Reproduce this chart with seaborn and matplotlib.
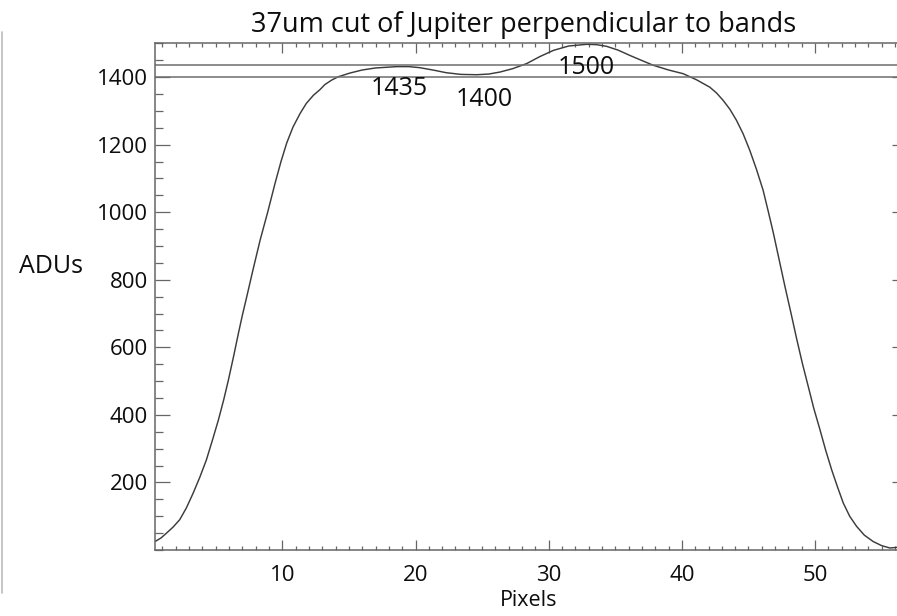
import numpy as np
import pandas as pd
import matplotlib
matplotlib.use("Agg")
import matplotlib.pyplot as plt
import seaborn as sns
from matplotlib.ticker import MultipleLocator, FixedLocator

# ── DATA ──────────────────────────────────────────────────────
pixels = [0.44, 0.9, 1.3, 1.8, 2.3, 2.8, 3.3, 3.8, 4.3, 4.75,
          5.2, 5.6, 5.95, 6.35, 6.7, 7.0, 7.33, 7.8, 8.33, 8.9,
          9.45, 9.9, 10.33, 10.8, 11.33, 11.8, 12.33, 12.83, 13.2, 13.7,
          14.2, 15.08, 16.0, 17.0, 18.6, 19.5, 20.3, 21.3, 22.3, 23.4,
          24.6, 25.5, 26.35, 27.3, 28.35, 29.3, 30.35, 31.5, 32.85, 33.6,
          34.35, 35.2, 36.1, 37.0, 37.85, 39.0, 40.1, 41.1, 42.1, 42.6,
          43.1, 43.6, 44.1, 44.6, 45.1, 45.6, 46.1, 46.5, 46.86, 47.3,
          47.74, 48.2, 48.62, 49.05, 49.49, 49.9, 50.37, 50.8, 51.25, 51.7,
          52.12, 52.6, 53.12, 53.7, 54.37, 55.0, 55.62, 56.2]
adus = [25, 36, 50, 68, 90, 125, 168, 215, 267, 325,
        385, 445, 503, 575, 641, 695, 750, 830, 917, 1000,
        1085, 1150, 1205, 1252, 1292, 1322, 1346, 1363, 1378, 1391,
        1401, 1412, 1421, 1427, 1431, 1431, 1428, 1421, 1413, 1408,
        1407, 1409, 1415, 1425, 1440, 1460, 1479, 1492, 1497, 1496,
        1491, 1480, 1464, 1449, 1435, 1421, 1410, 1392, 1370, 1353,
        1331, 1305, 1272, 1232, 1183, 1127, 1065, 1000, 940, 860,
        780, 700, 625, 552, 484, 420, 356, 295, 237, 185,
        139, 100, 70, 44, 25, 13, 6, 8]

ref_levels = [1435, 1400]
ref_labels = ["1435", "1400", "1500"]
label_x = [18.76, 25.14, 32.8]
label_y = [1346, 1313, 1410]

y_ticks = [200, 400, 600, 800, 1000, 1200, 1400]
x_ticks = [10, 20, 30, 40, 50]

df = pd.DataFrame({"Pixels": pixels, "ADUs": adus})

# ── STYLE ─────────────────────────────────────────────────────
sns.set_theme(style="ticks")
plt.rcParams['font.family'] = ['Open Sans', 'DejaVu Sans']
spine_c = "#666666"
text_c = "#0d0d0d"

fig = plt.figure(figsize=(8.97, 6.16), dpi=100)
ax = fig.add_axes([0.1728, 0.1071, 0.8383, 0.8226])

sns.lineplot(data=df, x="Pixels", y="ADUs", ax=ax, color="#3c3c3c",
             lw=1.05, sort=False)
for lvl in ref_levels:
    ax.axhline(lvl, color="#6e6e6e", lw=1.1)

for txt, tx, ty in zip(ref_labels, label_x, label_y):
    ax.text(tx, ty, txt, ha="center", va="baseline", fontsize=18,
            color=text_c)

ax.set_xlim(0.44, 56.9)
ax.set_ylim(0, 1500)
ax.xaxis.set_major_locator(FixedLocator(x_ticks))
ax.xaxis.set_minor_locator(MultipleLocator(1))
ax.yaxis.set_major_locator(FixedLocator(y_ticks))
ax.yaxis.set_minor_locator(MultipleLocator(50))

ax.tick_params(which="both", direction="in", top=True, right=True,
               color=spine_c, width=0.9, labelcolor=text_c,
               labelsize=16)
ax.tick_params(axis="y", which="major", length=10.8, pad=5)
ax.tick_params(axis="y", which="minor", length=5.5)
ax.tick_params(axis="x", which="major", length=7.2, pad=11)
ax.tick_params(axis="x", which="minor", length=3.2)
for sp in ax.spines.values():
    sp.set_color(spine_c)
    sp.set_linewidth(1.1)

ax.set_xlabel("")
ax.set_ylabel("")

fig.text(0.5836, 0.9485, "37um cut of Jupiter perpendicular to bands",
         ha="center", va="baseline", fontsize=19.5, color=text_c)
fig.text(0.0563, 0.5563, "ADUs", ha="center", va="baseline",
         fontsize=18, color=text_c)
fig.text(0.5897, 0.0422, "Pixels", ha="center", va="top",
         fontsize=15.5, color=text_c)

# thin scan border at the left edge
fig.add_artist(plt.Line2D([1.5 / 897, 1.5 / 897], [1 - 32 / 616, 1 - 593 / 616],
                          transform=fig.transFigure, color="#bbbbbb", lw=1.2))

fig.savefig("out.png", dpi=100)
